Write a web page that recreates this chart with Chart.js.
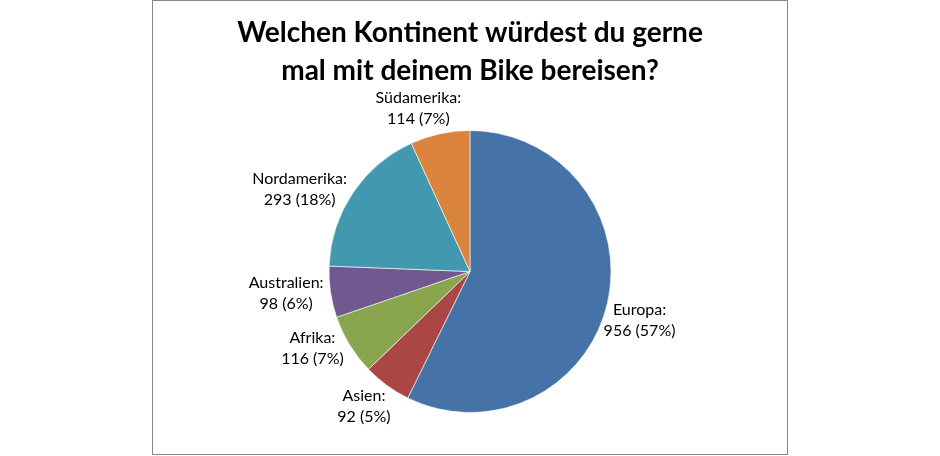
<!DOCTYPE html>
<html>
<head>
<meta charset="utf-8">
<script src="https://cdn.jsdelivr.net/npm/chart.js@4"></script>
<style>
  html, body { margin: 0; padding: 0; background: #fff; }
  #box {
    position: absolute;
    left: 152px; top: 0px;
    width: 634px; height: 453px;
    border: 1px solid #868686;
  }
</style>
</head>
<body>
<div id="box"><canvas id="chart"></canvas></div>
<script>
  // Kontinente, im Uhrzeigersinn ab 12 Uhr
  const CONTINENTS = ["Europa", "Asien", "Afrika", "Australien", "Nordamerika", "Südamerika"];
  const VOTES = [956, 92, 116, 98, 293, 114];
  const PERCENTS = [57, 5, 7, 6, 18, 7];
  const COLORS = ["#4572A7", "#AA4643", "#89A54E", "#71588F", "#4198AF", "#DB843D"];

  const LABEL_FONT = "16px Lato, 'Open Sans', sans-serif";
  const LINE_H = 21;
  const LABEL_OFFSET = 7;
  // label alignment around its anchor, degrees (0 = right, 90 = below), like datalabels' align
  const LABEL_ALIGN = [45, 135, 180, 180, 180, 242];

  // Excel-style labels just outside each slice
  const outsideLabels = {
    id: "outsideLabels",
    afterDatasetsDraw(chart) {
      const ctx = chart.ctx;
      const meta = chart.getDatasetMeta(0);
      ctx.save();
      ctx.font = LABEL_FONT;
      ctx.fillStyle = "#000";
      ctx.textAlign = "center";
      ctx.textBaseline = "middle";
      meta.data.forEach((arc, i) => {
        const p = arc.getProps(["x", "y", "startAngle", "endAngle", "outerRadius"], true);
        const mid = (p.startAngle + p.endAngle) / 2;
        const lines = [CONTINENTS[i] + ":", VOTES[i] + " (" + PERCENTS[i] + "%)"];
        const w = Math.max(...lines.map((l) => ctx.measureText(l).width));
        const h = LINE_H * lines.length;
        const r = p.outerRadius + LABEL_OFFSET;
        const ax = p.x + Math.cos(mid) * r;
        const ay = p.y + Math.sin(mid) * r;
        const a = (LABEL_ALIGN[i] * Math.PI) / 180;
        const x = ax + Math.cos(a) * w / 2;
        const y = ay + Math.sin(a) * h / 2;
        lines.forEach((l, k) => {
          ctx.fillText(l, x, y - h / 2 + LINE_H / 2 + k * LINE_H);
        });
      });
      ctx.restore();
    },
  };

  new Chart(document.getElementById("chart"), {
    type: "pie",
    data: {
      labels: CONTINENTS,
      datasets: [
        {
          data: VOTES,
          backgroundColor: COLORS,
          borderColor: "rgba(255,255,255,0.6)",
          borderWidth: 1,
        },
      ],
    },
    plugins: [outsideLabels],
    options: {
      responsive: true,
      maintainAspectRatio: false,
      animation: false,
      layout: { padding: { top: 0, bottom: 41 } },
      plugins: {
        legend: { display: false },
        tooltip: { enabled: false },
        title: {
          display: true,
          text: ["Welchen Kontinent würdest du gerne", "mal mit deinem Bike bereisen?"],
          color: "#000",
          font: { family: "Lato, 'Open Sans', sans-serif", size: 28, weight: "bold", lineHeight: 38 / 28 },
          padding: { top: 13, bottom: 40 },
        },
      },
    },
  });
</script>
</body>
</html>
